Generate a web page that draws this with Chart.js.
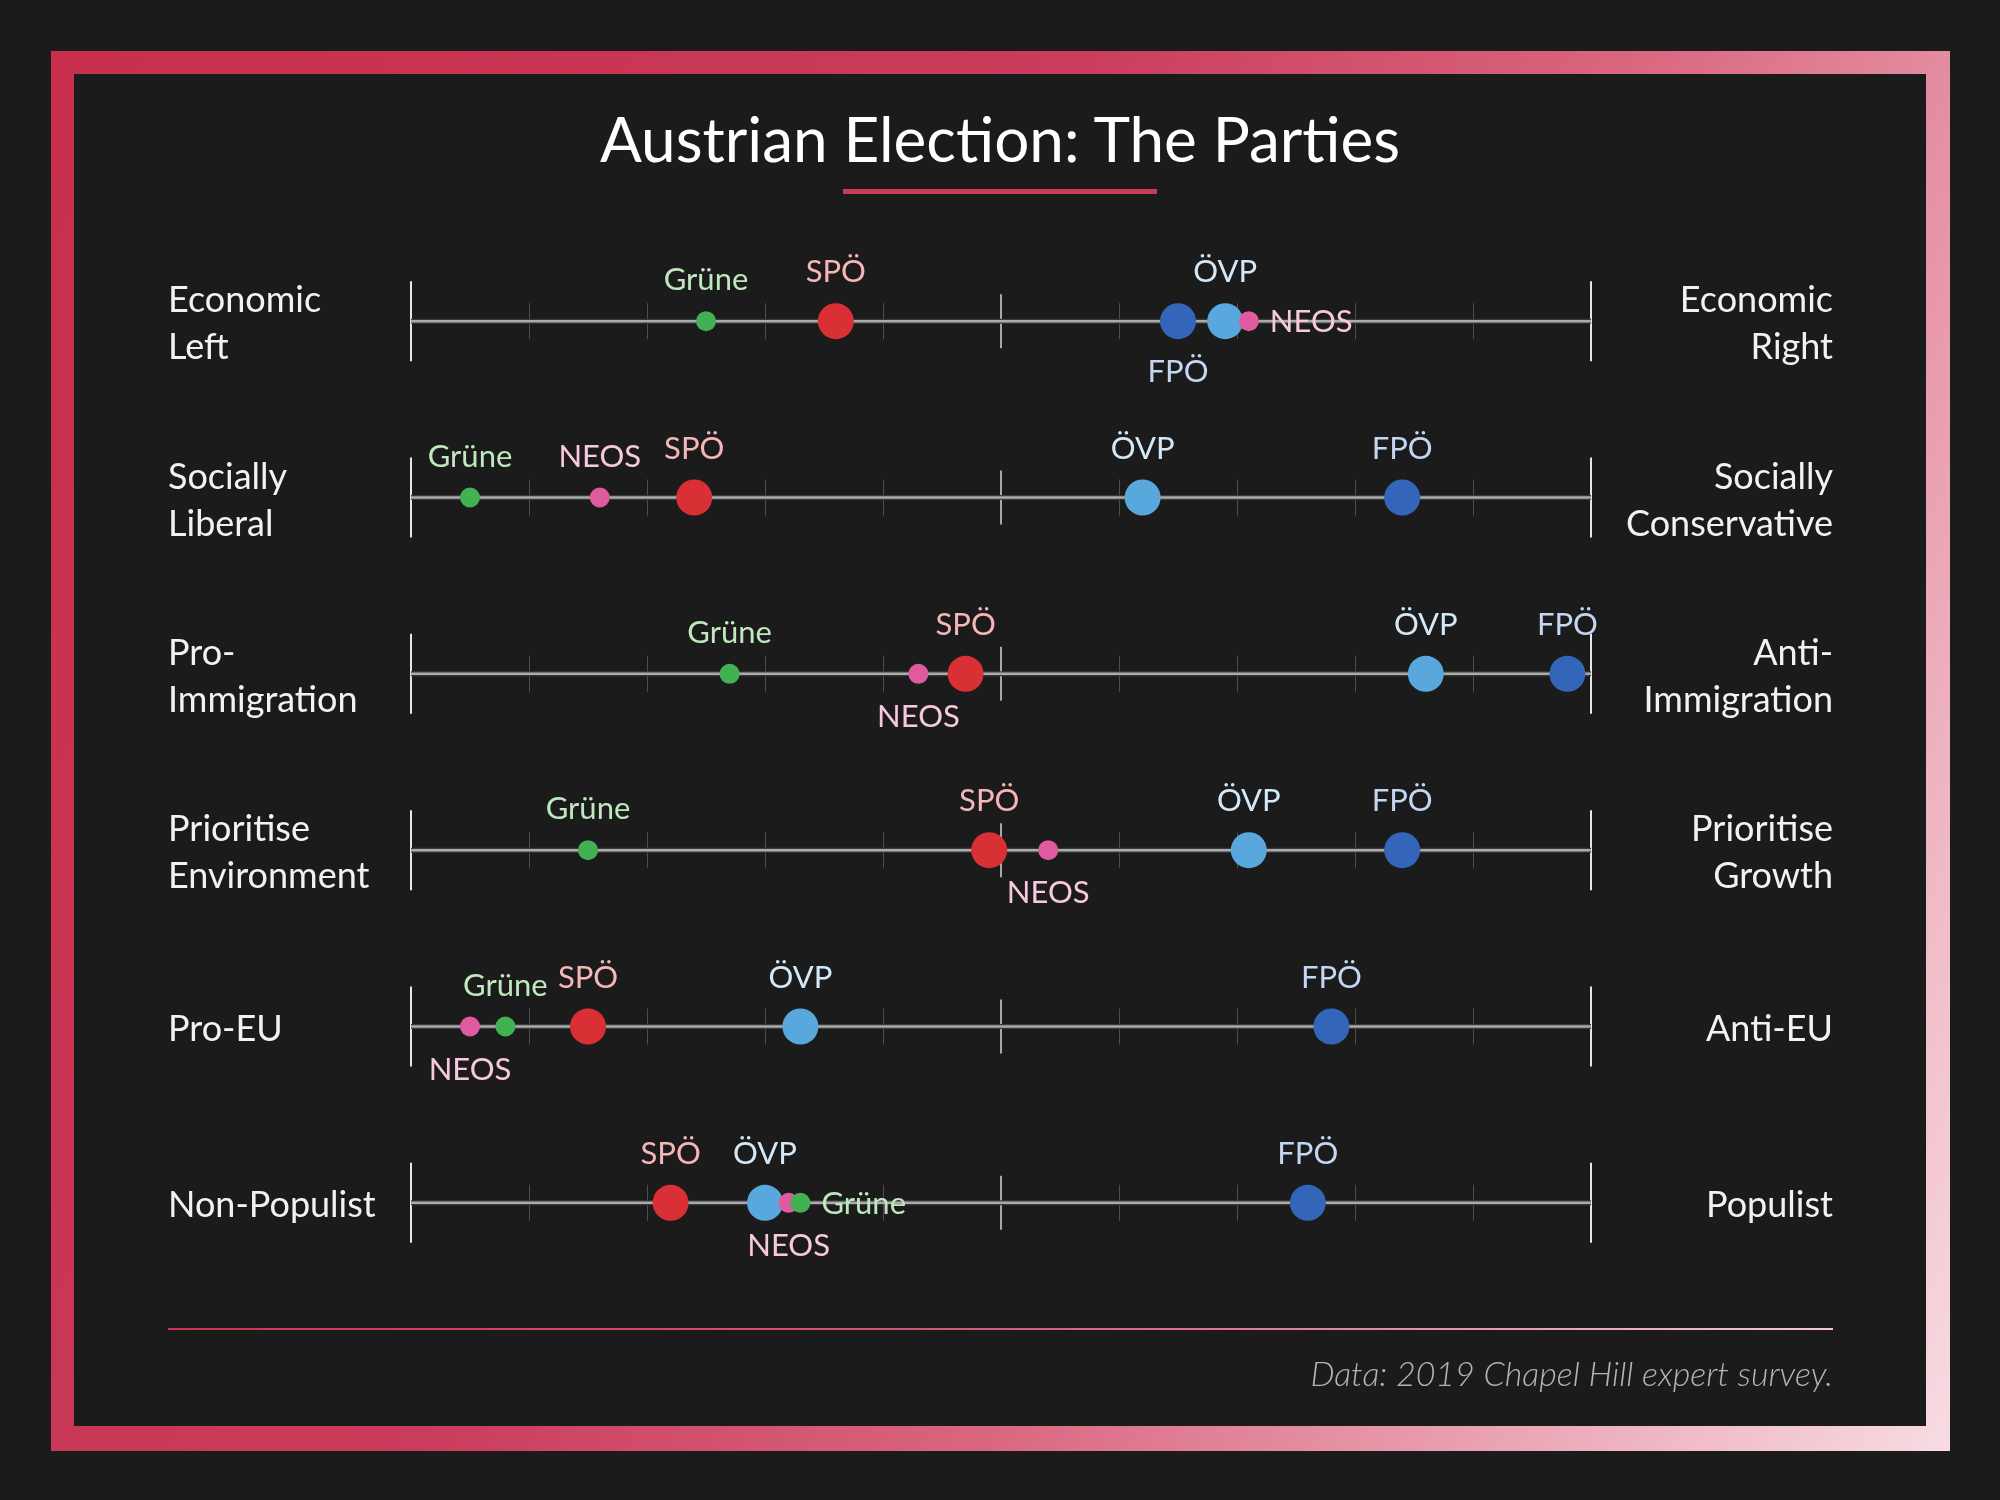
<!DOCTYPE html>
<html>
<head>
<meta charset="utf-8">
<script src="https://cdn.jsdelivr.net/npm/chart.js@4.4.0/dist/chart.umd.min.js"></script>
<style>
  html, body { margin: 0; padding: 0; background: #1b1b1b; }
  #page { position: relative; width: 2000px; height: 1500px; overflow: hidden; background: #1b1b1b; font-family: Lato, "Open Sans", sans-serif; }
  #frame { position: absolute; left: 51px; top: 51px; width: 1899px; height: 1400px;
    background: linear-gradient(115deg, #c72f4d 0%, #ca3c5b 40%, #d9667f 62%, #eaa3b3 82%, #f8dce3 100%); }
  #inner { position: absolute; left: 74px; top: 74px; width: 1852px; height: 1352px; background: #1b1b1b; }
  #title { position: absolute; left: 0; width: 2000px; top: 101px; text-align: center; color: #fff;
    font-size: 62px; line-height: 1.2; font-weight: 400; }
  #titleRule { position: absolute; left: 843px; top: 189px; width: 314px; height: 5px; background: #c73d59; }
  #footRule { position: absolute; left: 168px; top: 1328px; width: 1665px; height: 2px;
    background: linear-gradient(90deg, #c93555 0%, #d65a77 50%, #f2c9d3 100%); }
  #source { position: absolute; right: 167px; top: 1353px; color: #b4b4b4; font-size: 34px; line-height: 1.2;
    font-style: italic; font-weight: 300; }
  #chartBox { position: absolute; left: 0; top: 0; width: 2000px; height: 1500px; }
</style>
</head>
<body>
<div id="page">
  <div id="frame"></div>
  <div id="inner"></div>
  <div id="title">Austrian Election: The Parties</div>
  <div id="titleRule"></div>
  <div id="chartBox"><canvas id="parties" width="2000" height="1500"></canvas></div>
  <div id="footRule"></div>
  <div id="source">Data: 2019 Chapel Hill expert survey.</div>
</div>
<script>
// scale ends for each dimension (0-10 expert scale)
const leftLabels = [['Economic', 'Left'], ['Socially', 'Liberal'], ['Pro-', 'Immigration'], ['Prioritise', 'Environment'], ['Pro-EU'], ['Non-Populist']];
const rightLabels = [['Economic', 'Right'], ['Socially', 'Conservative'], ['Anti-', 'Immigration'], ['Prioritise', 'Growth'], ['Anti-EU'], ['Populist']];

// party positions, one value per dimension
const gruneValues = [2.5, 0.5, 2.7, 1.5, 0.8, 3.3];
const neosValues = [7.1, 1.6, 4.3, 5.4, 0.5, 3.2];
const ovpValues = [6.9, 6.2, 8.6, 7.1, 3.3, 3.0];
const fpoValues = [6.5, 8.4, 9.8, 8.4, 7.8, 7.6];
const spoValues = [3.6, 2.4, 4.7, 4.9, 1.5, 2.2];

// where each party name sits relative to its dot
const gruneLabelPos = ['top', 'top', 'top', 'top', 'top', 'right'];
const neosLabelPos = ['right', 'top', 'bottom', 'bottom', 'bottom', 'bottom'];
const ovpLabelPos = ['top', 'top', 'top', 'top', 'top', 'top'];
const fpoLabelPos = ['bottom', 'top', 'top', 'top', 'top', 'top'];
const spoLabelPos = ['top', 'top', 'top', 'top', 'top', 'top'];

const FONT = 'Lato, "Open Sans", sans-serif';

// first dataset is drawn on top
const parties = [
    { name: 'Grüne', values: gruneValues, pos: gruneLabelPos, dot: '#41b153', text: '#bfe8bf', r: 10 },
    { name: 'NEOS', values: neosValues, pos: neosLabelPos, dot: '#e05a9f', text: '#f8c8df', r: 10 },
    { name: 'ÖVP', values: ovpValues, pos: ovpLabelPos, dot: '#58a8dd', text: '#d3e9f8', r: 18 },
    { name: 'FPÖ', values: fpoValues, pos: fpoLabelPos, dot: '#3366b8', text: '#c3d6f2', r: 18 },
    { name: 'SPÖ', values: spoValues, pos: spoLabelPos, dot: '#d93036', text: '#f6b6b6', r: 18 }
];

// horizontal rails with ticks behind the dots
const railsPlugin = {
    id: 'rails',
    beforeDatasetsDraw(chart) {
        const ctx = chart.ctx;
        const xs = chart.scales.x;
        const ys = chart.scales.y;
        const x0 = xs.getPixelForValue(0);
        const x1 = xs.getPixelForValue(10);
        ctx.save();
        leftLabels.forEach((_, i) => {
            const y = ys.getPixelForValue(i);
            // minor ticks
            ctx.strokeStyle = '#4e4e4e';
            ctx.lineWidth = 1;
            for (let t = 1; t < 10; t++) {
                if (t === 5) continue;
                const x = Math.round(xs.getPixelForValue(t)) + 0.5;
                ctx.beginPath();
                ctx.moveTo(x, y - 18);
                ctx.lineTo(x, y + 18);
                ctx.stroke();
            }
            // middle tick
            ctx.strokeStyle = '#d8d8d8';
            ctx.lineWidth = 1.5;
            const xm = xs.getPixelForValue(5);
            ctx.beginPath();
            ctx.moveTo(xm, y - 27);
            ctx.lineTo(xm, y + 27);
            ctx.stroke();
            // end ticks
            ctx.lineWidth = 2;
            ctx.strokeStyle = '#e6e6e6';
            [x0, x1].forEach(x => {
                ctx.beginPath();
                ctx.moveTo(x, y - 40);
                ctx.lineTo(x, y + 40);
                ctx.stroke();
            });
            // rail
            ctx.strokeStyle = '#3a3a3a';
            ctx.lineWidth = 5;
            ctx.beginPath();
            ctx.moveTo(x0, y);
            ctx.lineTo(x1, y);
            ctx.stroke();
            ctx.strokeStyle = '#ababab';
            ctx.lineWidth = 2.5;
            ctx.beginPath();
            ctx.moveTo(x0, y);
            ctx.lineTo(x1, y);
            ctx.stroke();
        });
        ctx.restore();
    },
    afterDatasetsDraw(chart) {
        const ctx = chart.ctx;
        const ys = chart.scales.y;
        ctx.save();
        // dimension names at both ends
        ctx.font = '36px ' + FONT;
        ctx.fillStyle = '#f2f2f2';
        ctx.textBaseline = 'alphabetic';
        const drawSide = (lines, x, y, align) => {
            ctx.textAlign = align;
            if (lines.length === 1) {
                ctx.fillText(lines[0], x, y + 14);
            } else {
                ctx.fillText(lines[0], x, y - 9);
                ctx.fillText(lines[1], x, y + 38);
            }
        };
        leftLabels.forEach((lines, i) => drawSide(lines, 168, ys.getPixelForValue(i), 'left'));
        rightLabels.forEach((lines, i) => drawSide(lines, 1833, ys.getPixelForValue(i), 'right'));

        // party names
        ctx.font = '31px ' + FONT;
        parties.forEach((p, di) => {
            const meta = chart.getDatasetMeta(di);
            meta.data.forEach((pt, j) => {
                const pos = p.pos[j];
                ctx.fillStyle = p.text;
                if (pos === 'top') {
                    ctx.textAlign = 'center';
                    ctx.fillText(p.name, pt.x, pt.y - p.r - 21);
                } else if (pos === 'bottom') {
                    ctx.textAlign = 'center';
                    ctx.fillText(p.name, pt.x, pt.y + p.r + 43);
                } else {
                    ctx.textAlign = 'left';
                    ctx.fillText(p.name, pt.x + p.r + 11, pt.y + 11);
                }
            });
        });
        ctx.restore();
    }
};

new Chart(document.getElementById('parties'), {
    type: 'scatter',
    data: {
        datasets: parties.map(p => ({
            label: p.name,
            data: p.values.map((v, i) => ({ x: v, y: i })),
            backgroundColor: p.dot,
            borderWidth: 0,
            pointRadius: p.r,
            pointHoverRadius: p.r
        }))
    },
    options: {
        responsive: false,
        animation: false,
        layout: { padding: { left: 411, right: 409, top: 233, bottom: 209 } },
        scales: {
            x: { type: 'linear', min: 0, max: 10, display: false },
            y: { type: 'linear', min: -0.5, max: 5.5, reverse: true, display: false }
        },
        plugins: {
            legend: { display: false },
            tooltip: { enabled: false }
        }
    },
    plugins: [railsPlugin]
});
</script>
</body>
</html>
